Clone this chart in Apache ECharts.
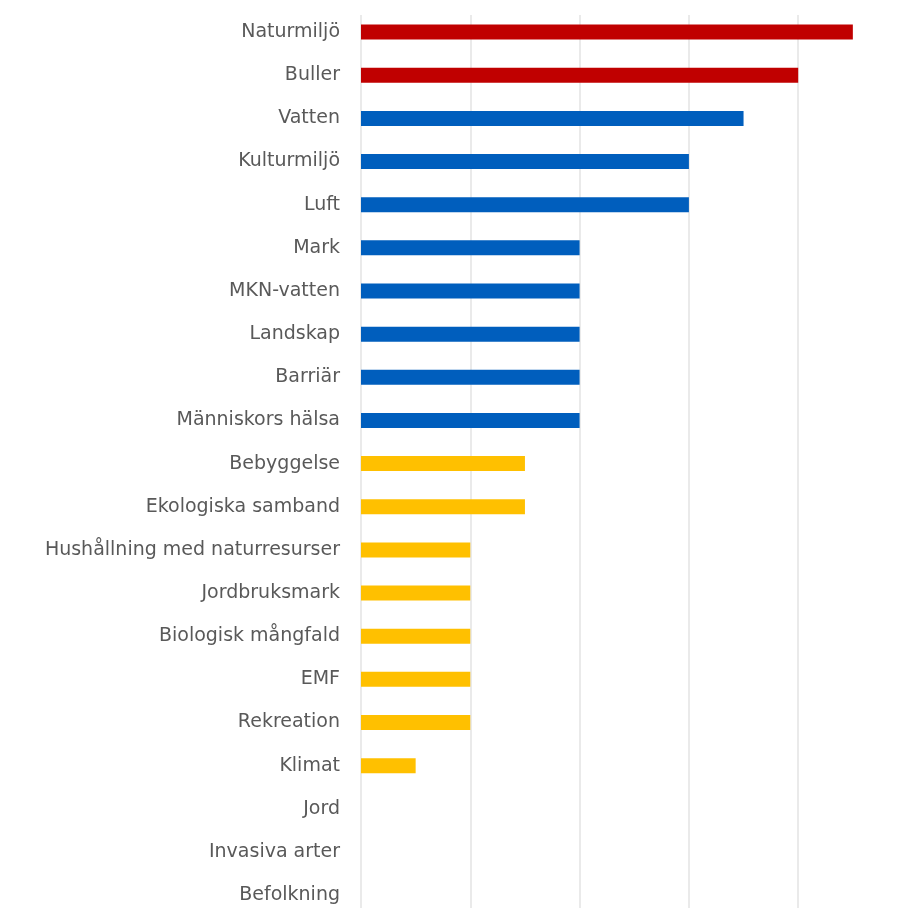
<!DOCTYPE html>
<html>
<head>
<meta charset="utf-8">
<script src="https://cdn.jsdelivr.net/npm/echarts@6/dist/echarts.min.js"></script>
<style>html,body{margin:0;padding:0;background:#fff}#c{width:897px;height:908px}</style>
</head>
<body>
<div id="c"></div>
<script>
const categories = ["Naturmiljö","Buller","Vatten","Kulturmiljö","Luft","Mark","MKN-vatten","Landskap","Barriär","Människors hälsa","Bebyggelse","Ekologiska samband","Hushållning med naturresurser","Jordbruksmark","Biologisk mångfald","EMF","Rekreation","Klimat","Jord","Invasiva arter","Befolkning"];
const values = [4.5,4,3.5,3,3,2,2,2,2,2,1.5,1.5,1,1,1,1,1,0.5,0,0,0];
const groups = ["high","high","mid","mid","mid","mid","mid","mid","mid","mid","low","low","low","low","low","low","low","low","low","low","low"];
const xTicks = [0,1,2,3,4,5];

const groupColors = {high:"#C00000", mid:"#005EBD", low:"#FFC000"};
const chart = echarts.init(document.getElementById('c'), null, {renderer:'canvas'});
const xMin = xTicks[0], xMax = xTicks[xTicks.length-1];
chart.setOption({
  animation:false,
  grid:[
    {left:361, width:546.5, top:10.5, height:906.2, containLabel:false, outerBoundsMode:'none'},
    {left:361, width:546.5, top:15, height:900, containLabel:false, outerBoundsMode:'none'}
  ],
  xAxis:[
    {gridIndex:0, type:'value', min:xMin, max:xMax, interval:1, axisLabel:{show:false}, axisLine:{show:false}, axisTick:{show:false}, splitLine:{show:false}},
    {gridIndex:1, type:'value', min:xMin, max:xMax, interval:1, axisLabel:{show:false}, axisLine:{show:false}, axisTick:{show:false}, splitLine:{show:true, lineStyle:{color:'#e3e3e3', width:1.5}}}
  ],
  yAxis:[
    {gridIndex:0, type:'category', data:categories, inverse:true,
     axisLine:{show:false}, axisTick:{show:false}, splitLine:{show:false},
     axisLabel:{margin:21, color:'#595959', fontFamily:'DejaVu Sans', fontSize:19, interval:0}},
    {gridIndex:1, type:'category', data:categories, show:false}
  ],
  series:[{
    type:'bar', xAxisIndex:0, yAxisIndex:0, barWidth:15,
    data: values.map((v,i)=>({value:v, itemStyle:{color:groupColors[groups[i]]}}))
  }]
});
</script>
</body>
</html>
